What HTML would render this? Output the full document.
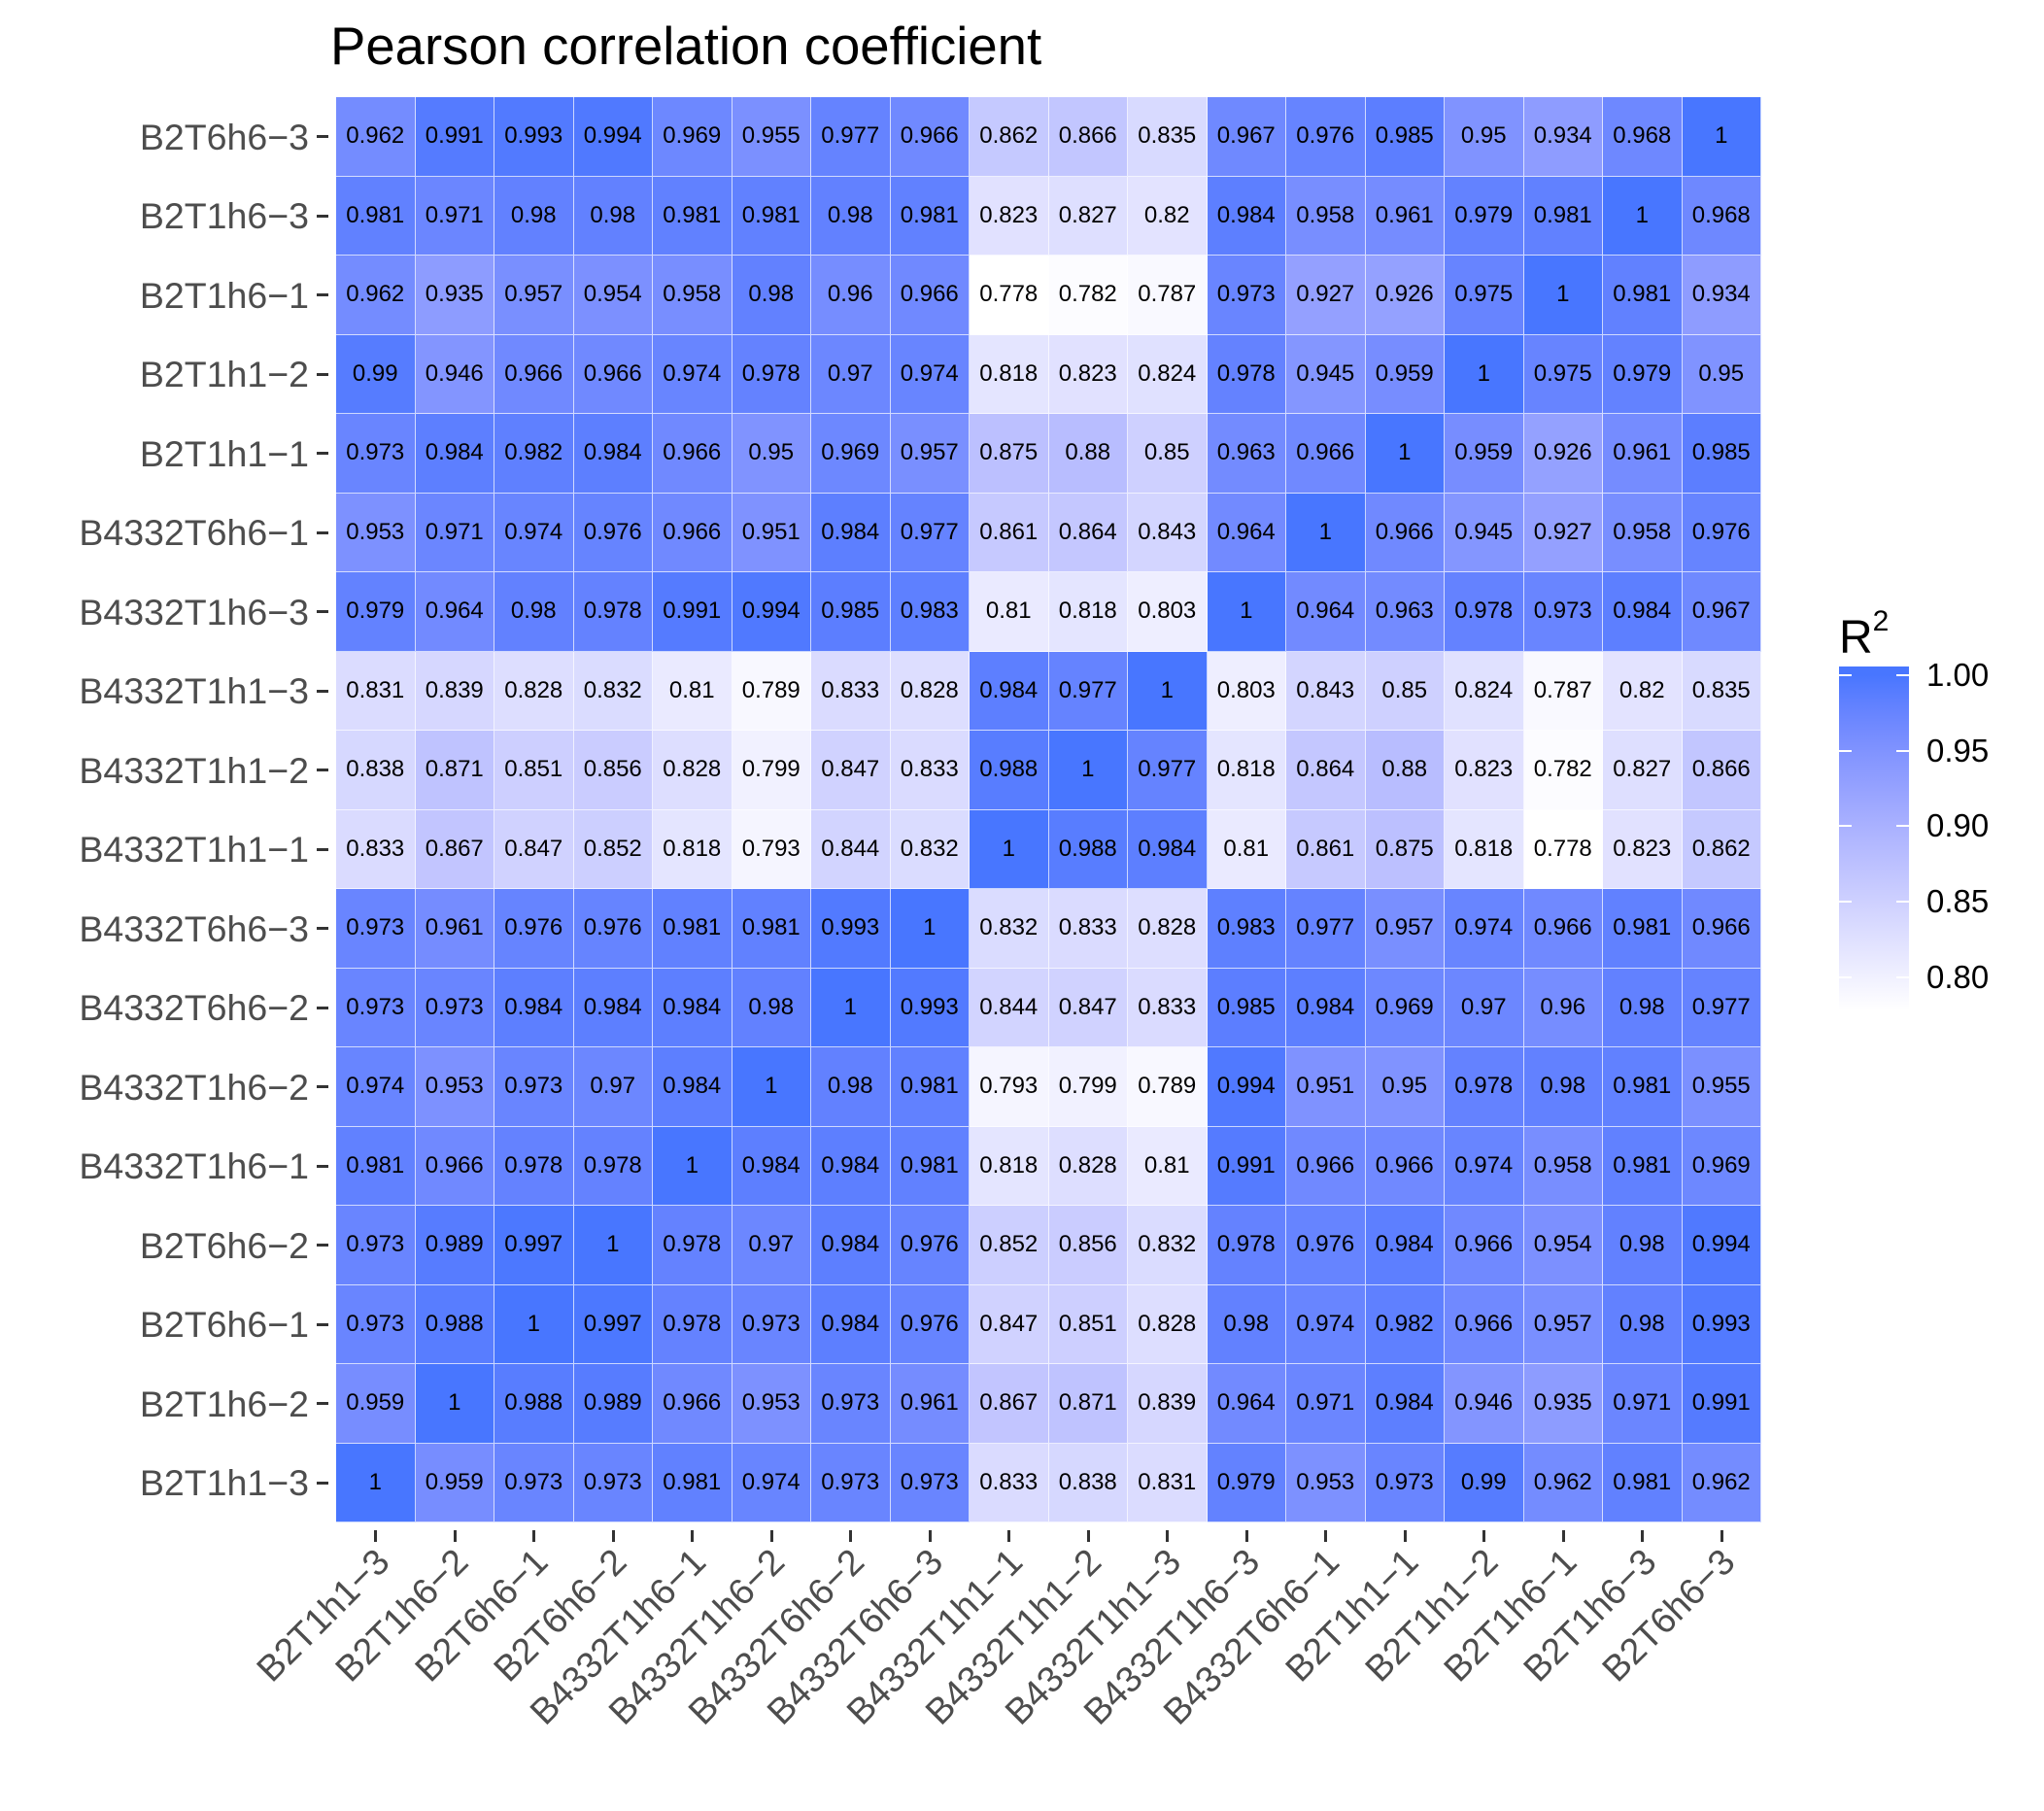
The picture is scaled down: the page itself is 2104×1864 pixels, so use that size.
<!DOCTYPE html>
<html><head><meta charset="utf-8">
<style>
html,body{margin:0;padding:0;background:#fff;}
body{width:2104px;height:1864px;position:relative;overflow:hidden;font-family:"Liberation Sans",Arial,sans-serif;}
#title{position:absolute;left:340px;top:18px;font-size:54.5px;line-height:60px;color:#000;white-space:nowrap;}
#grid{position:absolute;left:346px;top:100px;width:1467px;height:1467px;display:grid;grid-template-columns:repeat(18,81.5px);grid-template-rows:repeat(18,81.5px);}
#grid i{font-style:normal;display:flex;align-items:center;justify-content:center;font-size:24px;color:#000;box-sizing:border-box;border-right:1px solid rgba(255,255,255,0.7);border-bottom:1px solid rgba(255,255,255,0.7);}
.yl{position:absolute;right:1786px;font-size:37.5px;color:#4d4d4d;line-height:40px;white-space:nowrap;text-align:right;}
.yt{position:absolute;left:326px;width:12px;height:3px;background:#333;}
.xt{position:absolute;top:1575px;width:3px;height:12px;background:#333;}
.xl{position:absolute;font-size:37.5px;color:#4d4d4d;line-height:37px;white-space:nowrap;text-align:right;transform-origin:100% 0;transform:rotate(-45deg);top:1588px;}
#bar{position:absolute;left:1893px;top:686px;width:72px;height:354px;background:linear-gradient(to bottom,#4876FF 0px,#4876FF 9px,#ffffff 354px);background:linear-gradient(in lab to bottom,#4876FF 0px,#4876FF 9px,#ffffff 354px);}
.lt{position:absolute;width:13px;height:2px;background:#fff;}
.ll{position:absolute;left:1983px;font-size:33px;line-height:34px;color:#000;}
#lgt{position:absolute;left:1893px;top:618px;font-size:48px;line-height:56px;color:#000;}
#lgt sup{font-size:30px;position:relative;top:-6px;}
</style></head><body>
<div id="title">Pearson correlation coefficient</div>
<div id="grid">
<i>0.962</i><i>0.991</i><i>0.993</i><i>0.994</i><i>0.969</i><i>0.955</i><i>0.977</i><i>0.966</i><i>0.862</i><i>0.866</i><i>0.835</i><i>0.967</i><i>0.976</i><i>0.985</i><i>0.95</i><i>0.934</i><i>0.968</i><i>1</i>
<i>0.981</i><i>0.971</i><i>0.98</i><i>0.98</i><i>0.981</i><i>0.981</i><i>0.98</i><i>0.981</i><i>0.823</i><i>0.827</i><i>0.82</i><i>0.984</i><i>0.958</i><i>0.961</i><i>0.979</i><i>0.981</i><i>1</i><i>0.968</i>
<i>0.962</i><i>0.935</i><i>0.957</i><i>0.954</i><i>0.958</i><i>0.98</i><i>0.96</i><i>0.966</i><i>0.778</i><i>0.782</i><i>0.787</i><i>0.973</i><i>0.927</i><i>0.926</i><i>0.975</i><i>1</i><i>0.981</i><i>0.934</i>
<i>0.99</i><i>0.946</i><i>0.966</i><i>0.966</i><i>0.974</i><i>0.978</i><i>0.97</i><i>0.974</i><i>0.818</i><i>0.823</i><i>0.824</i><i>0.978</i><i>0.945</i><i>0.959</i><i>1</i><i>0.975</i><i>0.979</i><i>0.95</i>
<i>0.973</i><i>0.984</i><i>0.982</i><i>0.984</i><i>0.966</i><i>0.95</i><i>0.969</i><i>0.957</i><i>0.875</i><i>0.88</i><i>0.85</i><i>0.963</i><i>0.966</i><i>1</i><i>0.959</i><i>0.926</i><i>0.961</i><i>0.985</i>
<i>0.953</i><i>0.971</i><i>0.974</i><i>0.976</i><i>0.966</i><i>0.951</i><i>0.984</i><i>0.977</i><i>0.861</i><i>0.864</i><i>0.843</i><i>0.964</i><i>1</i><i>0.966</i><i>0.945</i><i>0.927</i><i>0.958</i><i>0.976</i>
<i>0.979</i><i>0.964</i><i>0.98</i><i>0.978</i><i>0.991</i><i>0.994</i><i>0.985</i><i>0.983</i><i>0.81</i><i>0.818</i><i>0.803</i><i>1</i><i>0.964</i><i>0.963</i><i>0.978</i><i>0.973</i><i>0.984</i><i>0.967</i>
<i>0.831</i><i>0.839</i><i>0.828</i><i>0.832</i><i>0.81</i><i>0.789</i><i>0.833</i><i>0.828</i><i>0.984</i><i>0.977</i><i>1</i><i>0.803</i><i>0.843</i><i>0.85</i><i>0.824</i><i>0.787</i><i>0.82</i><i>0.835</i>
<i>0.838</i><i>0.871</i><i>0.851</i><i>0.856</i><i>0.828</i><i>0.799</i><i>0.847</i><i>0.833</i><i>0.988</i><i>1</i><i>0.977</i><i>0.818</i><i>0.864</i><i>0.88</i><i>0.823</i><i>0.782</i><i>0.827</i><i>0.866</i>
<i>0.833</i><i>0.867</i><i>0.847</i><i>0.852</i><i>0.818</i><i>0.793</i><i>0.844</i><i>0.832</i><i>1</i><i>0.988</i><i>0.984</i><i>0.81</i><i>0.861</i><i>0.875</i><i>0.818</i><i>0.778</i><i>0.823</i><i>0.862</i>
<i>0.973</i><i>0.961</i><i>0.976</i><i>0.976</i><i>0.981</i><i>0.981</i><i>0.993</i><i>1</i><i>0.832</i><i>0.833</i><i>0.828</i><i>0.983</i><i>0.977</i><i>0.957</i><i>0.974</i><i>0.966</i><i>0.981</i><i>0.966</i>
<i>0.973</i><i>0.973</i><i>0.984</i><i>0.984</i><i>0.984</i><i>0.98</i><i>1</i><i>0.993</i><i>0.844</i><i>0.847</i><i>0.833</i><i>0.985</i><i>0.984</i><i>0.969</i><i>0.97</i><i>0.96</i><i>0.98</i><i>0.977</i>
<i>0.974</i><i>0.953</i><i>0.973</i><i>0.97</i><i>0.984</i><i>1</i><i>0.98</i><i>0.981</i><i>0.793</i><i>0.799</i><i>0.789</i><i>0.994</i><i>0.951</i><i>0.95</i><i>0.978</i><i>0.98</i><i>0.981</i><i>0.955</i>
<i>0.981</i><i>0.966</i><i>0.978</i><i>0.978</i><i>1</i><i>0.984</i><i>0.984</i><i>0.981</i><i>0.818</i><i>0.828</i><i>0.81</i><i>0.991</i><i>0.966</i><i>0.966</i><i>0.974</i><i>0.958</i><i>0.981</i><i>0.969</i>
<i>0.973</i><i>0.989</i><i>0.997</i><i>1</i><i>0.978</i><i>0.97</i><i>0.984</i><i>0.976</i><i>0.852</i><i>0.856</i><i>0.832</i><i>0.978</i><i>0.976</i><i>0.984</i><i>0.966</i><i>0.954</i><i>0.98</i><i>0.994</i>
<i>0.973</i><i>0.988</i><i>1</i><i>0.997</i><i>0.978</i><i>0.973</i><i>0.984</i><i>0.976</i><i>0.847</i><i>0.851</i><i>0.828</i><i>0.98</i><i>0.974</i><i>0.982</i><i>0.966</i><i>0.957</i><i>0.98</i><i>0.993</i>
<i>0.959</i><i>1</i><i>0.988</i><i>0.989</i><i>0.966</i><i>0.953</i><i>0.973</i><i>0.961</i><i>0.867</i><i>0.871</i><i>0.839</i><i>0.964</i><i>0.971</i><i>0.984</i><i>0.946</i><i>0.935</i><i>0.971</i><i>0.991</i>
<i>1</i><i>0.959</i><i>0.973</i><i>0.973</i><i>0.981</i><i>0.974</i><i>0.973</i><i>0.973</i><i>0.833</i><i>0.838</i><i>0.831</i><i>0.979</i><i>0.953</i><i>0.973</i><i>0.99</i><i>0.962</i><i>0.981</i><i>0.962</i>
</div>

<div class="yl" style="top:121px">B2T6h6−3</div>
<div class="yl" style="top:202px">B2T1h6−3</div>
<div class="yl" style="top:284px">B2T1h6−1</div>
<div class="yl" style="top:365px">B2T1h1−2</div>
<div class="yl" style="top:447px">B2T1h1−1</div>
<div class="yl" style="top:528px">B4332T6h6−1</div>
<div class="yl" style="top:610px">B4332T1h6−3</div>
<div class="yl" style="top:691px">B4332T1h1−3</div>
<div class="yl" style="top:773px">B4332T1h1−2</div>
<div class="yl" style="top:854px">B4332T1h1−1</div>
<div class="yl" style="top:936px">B4332T6h6−3</div>
<div class="yl" style="top:1017px">B4332T6h6−2</div>
<div class="yl" style="top:1099px">B4332T1h6−2</div>
<div class="yl" style="top:1180px">B4332T1h6−1</div>
<div class="yl" style="top:1262px">B2T6h6−2</div>
<div class="yl" style="top:1343px">B2T6h6−1</div>
<div class="yl" style="top:1425px">B2T1h6−2</div>
<div class="yl" style="top:1506px">B2T1h1−3</div>

<div id="yticks"></div>
<div id="xticks"></div>

<div class="xl" style="right:1723px">B2T1h1−3</div>
<div class="xl" style="right:1642px">B2T1h6−2</div>
<div class="xl" style="right:1560px">B2T6h6−1</div>
<div class="xl" style="right:1479px">B2T6h6−2</div>
<div class="xl" style="right:1397px">B4332T1h6−1</div>
<div class="xl" style="right:1316px">B4332T1h6−2</div>
<div class="xl" style="right:1234px">B4332T6h6−2</div>
<div class="xl" style="right:1153px">B4332T6h6−3</div>
<div class="xl" style="right:1071px">B4332T1h1−1</div>
<div class="xl" style="right:990px">B4332T1h1−2</div>
<div class="xl" style="right:908px">B4332T1h1−3</div>
<div class="xl" style="right:827px">B4332T1h6−3</div>
<div class="xl" style="right:745px">B4332T6h6−1</div>
<div class="xl" style="right:664px">B2T1h1−1</div>
<div class="xl" style="right:582px">B2T1h1−2</div>
<div class="xl" style="right:501px">B2T1h6−1</div>
<div class="xl" style="right:419px">B2T1h6−3</div>
<div class="xl" style="right:338px">B2T6h6−3</div>

<div id="lgt">R<sup>2</sup></div>
<div id="bar"></div>
<div class="lt" style="left:1893px;top:694px"></div><div class="lt" style="left:1952px;top:694px"></div>
<div class="lt" style="left:1893px;top:772px"></div><div class="lt" style="left:1952px;top:772px"></div>
<div class="lt" style="left:1893px;top:849px"></div><div class="lt" style="left:1952px;top:849px"></div>
<div class="lt" style="left:1893px;top:927px"></div><div class="lt" style="left:1952px;top:927px"></div>
<div class="lt" style="left:1893px;top:1005px"></div><div class="lt" style="left:1952px;top:1005px"></div>
<div class="ll" style="top:678px">1.00</div>
<div class="ll" style="top:756px">0.95</div>
<div class="ll" style="top:833px">0.90</div>
<div class="ll" style="top:911px">0.85</div>
<div class="ll" style="top:989px">0.80</div>

<script>
(function(){
  var cells=document.querySelectorAll('#grid i');
  var ok=CSS.supports('color','color-mix(in lab, red 50%, white)');
  function lerp(a,b,t){return Math.round(a+(b-a)*t);}
  for(var k=0;k<cells.length;k++){
    var v=parseFloat(cells[k].textContent);
    var t=Math.max(0,Math.min(1,(v-0.778)/(1-0.778)));
    if(ok){cells[k].style.background='color-mix(in lab, #4876FF '+(t*100).toFixed(1)+'%, #ffffff)';}
    else{cells[k].style.background='rgb('+lerp(255,72,Math.pow(t,0.9))+','+lerp(255,118,Math.pow(t,0.8))+',255)';}
  }
  var yt=document.getElementById('yticks'),xt=document.getElementById('xticks');
  for(var i=0;i<18;i++){
    var d=document.createElement('div');d.className='yt';d.style.top=(100+81.5*(i+0.5)-1.5)+'px';yt.appendChild(d);
    var e=document.createElement('div');e.className='xt';e.style.left=(346+81.5*(i+0.5)-1.5)+'px';xt.appendChild(e);
  }
})();
</script>
</body></html>
